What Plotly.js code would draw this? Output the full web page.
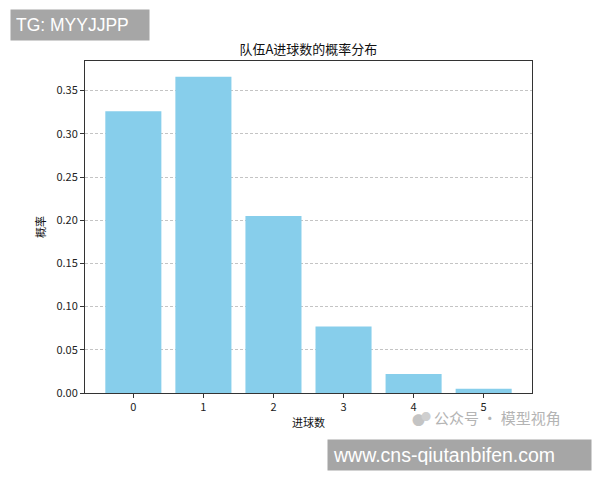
<!DOCTYPE html>
<html>
<head>
<meta charset="utf-8">
<script src="https://cdn.plot.ly/plotly-3.0.1.min.js"></script>
<style>body{margin:0;background:#fff;} #chart{width:600px;height:480px;}</style>
</head>
<body>
<div id="chart"></div>
<script>
var goals = [0, 1, 2, 3, 4, 5];
var probabilities = [0.326, 0.366, 0.205, 0.077, 0.022, 0.005];
var yTicks = [0, 0.05, 0.10, 0.15, 0.20, 0.25, 0.30, 0.35];
var xTickLabels = ['0', '1', '2', '3', '4', '5'];

var font = '"Noto Sans CJK SC", "DejaVu Sans", sans-serif';
var latin = '"Liberation Sans", Arial, sans-serif';

var trace = {
  type: 'bar',
  x: goals,
  y: probabilities,
  width: 0.8,
  marker: {color: '#87CEEB', line: {width: 0}},
  hoverinfo: 'x+y'
};

var layout = {
  width: 600, height: 480,
  margin: {l: 85, r: 68, t: 61, b: 87},
  paper_bgcolor: '#ffffff',
  plot_bgcolor: '#ffffff',
  showlegend: false,
  font: {family: font, size: 11, color: '#222'},
  title: {text: '队伍A进球数的概率分布', x: 0.514, xanchor: 'center', y: 0.898, yanchor: 'middle',
          font: {family: font, size: 13, color: '#111'}},
  xaxis: {
    range: [-0.69, 5.69],
    tickvals: goals, ticktext: xTickLabels,
    showgrid: false, zeroline: false,
    showline: true, linecolor: '#333', linewidth: 1, mirror: true,
    ticks: 'outside', ticklen: 4, tickcolor: '#333',
    tickfont: {family: font, size: 11, color: '#222'},
    title: {text: '进球数', font: {family: font, size: 11, color: '#111'}, standoff: 6}
  },
  yaxis: {
    range: [0, 0.3843],
    tickvals: yTicks, tickformat: '.2f',
    showgrid: true, gridcolor: '#c4c4c4', griddash: '3px,2px', gridwidth: 1,
    zeroline: false,
    showline: true, linecolor: '#333', linewidth: 1, mirror: true,
    ticks: 'outside', ticklen: 4, tickcolor: '#333',
    tickfont: {family: font, size: 11, color: '#222'},
    title: {text: '概率', font: {family: font, size: 11, color: '#111'}, standoff: 8}
  },
  annotations: [
    {xref: 'paper', yref: 'paper', x: -0.168, y: 1.108, xanchor: 'left', yanchor: 'middle',
     text: 'TG: MYYJJPP', showarrow: false, bgcolor: '#a6a6a6', align: 'left',
     width: 128, height: 20, borderpad: 5,
     font: {family: latin, size: 17.5, color: '#ffffff'}},
    {xref: 'paper', yref: 'paper', x: 0.776, y: -0.075, xanchor: 'left', yanchor: 'middle',
     text: '公众号 · 模型视角', showarrow: false,
     font: {family: font, size: 15, color: '#b4b4b4'}},
    {xref: 'paper', yref: 'paper', x: 0.745, y: -0.08, xanchor: 'center', yanchor: 'middle',
     text: '●', showarrow: false,
     font: {family: font, size: 13, color: '#c4c4c4'}},
    {xref: 'paper', yref: 'paper', x: 0.762, y: -0.072, xanchor: 'center', yanchor: 'middle',
     text: '●', showarrow: false,
     font: {family: font, size: 10, color: '#cfcfcf'}},
    {xref: 'paper', yref: 'paper', x: 0.541, y: -0.187, xanchor: 'left', yanchor: 'middle',
     text: 'www.cns-qiutanbifen.com', showarrow: false, bgcolor: '#a6a6a6', align: 'left',
     width: 253, height: 20, borderpad: 5,
     font: {family: latin, size: 19.5, color: '#ffffff'}}
  ]
};

Plotly.newPlot('chart', [trace], layout, {displayModeBar: false, staticPlot: true});
</script>
</body>
</html>
